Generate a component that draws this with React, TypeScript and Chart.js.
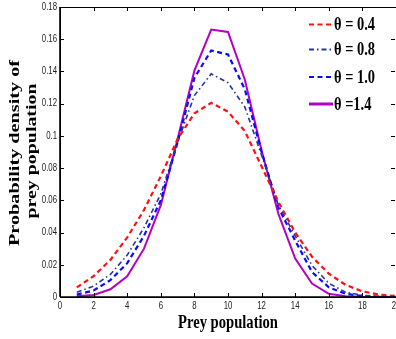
import React, { useEffect, useRef } from "react";
import { Chart, registerables } from "chart.js";

Chart.register(...registerables);

// ---- data ----
const preyPopulation = [1, 2, 3, 4, 5, 6, 7, 8, 9, 10, 11, 12, 13, 14, 15, 16, 17, 18, 19, 20];
const theta04 = [0.006, 0.013, 0.023, 0.037, 0.054, 0.075, 0.098, 0.114, 0.1205, 0.115, 0.103, 0.081, 0.059, 0.040, 0.025, 0.0145, 0.0075, 0.0035, 0.0015, 0.0006];
const theta08 = [0.003, 0.0068, 0.014, 0.026, 0.043, 0.064, 0.096, 0.125, 0.1385, 0.133, 0.118, 0.088, 0.057, 0.038, 0.0196, 0.0085, 0.003, 0.001, 0.0003, 0.0001];
const theta10 = [0.0015, 0.004, 0.0105, 0.021, 0.038, 0.060, 0.096, 0.136, 0.153, 0.1505, 0.129, 0.090, 0.0555, 0.035, 0.0155, 0.006, 0.002, 0.0006, 0.0002, 0.0];
const theta14 = [0.0004, 0.0012, 0.0048, 0.0128, 0.030, 0.057, 0.098, 0.1405, 0.166, 0.1645, 0.135, 0.091, 0.0516, 0.0238, 0.0083, 0.002, 0.0005, 0.0001, 0.0, 0.0];
const seriesLabels = ["θ = 0.4", "θ = 0.8", "θ = 1.0", "θ =1.4"];
const xAxisTitle = "Prey population";
const yAxisTitle = ["Probability density of", "prey population"];
const xMin = 0, xMax = 20, xStep = 2;
const yMin = 0, yMax = 0.18, yStep = 0.02;

const W = 410;
const H = 339;

function drawFitText(
  ctx: CanvasRenderingContext2D,
  text: string,
  x: number,
  y: number,
  font: string,
  sx: number,
  cross: number,
  rotate: boolean,
  align: CanvasTextAlign,
  color = "#000"
) {
  ctx.save();
  ctx.font = font;
  ctx.translate(x, y);
  if (rotate) ctx.rotate(-Math.PI / 2);
  ctx.scale(sx, cross);
  ctx.textAlign = align;
  ctx.textBaseline = "middle";
  ctx.fillStyle = color;
  ctx.fillText(text, 0, 0);
  ctx.restore();
}

const decorPlugin = {
  id: "decor",
  afterDraw(chart: any) {
    const ctx: CanvasRenderingContext2D = chart.ctx;
    const { left, right, top, bottom } = chart.chartArea;
    const xs = chart.scales.x;
    const ys = chart.scales.y;
    ctx.save();
    // frame
    ctx.strokeStyle = "#000";
    ctx.lineWidth = 1;
    ctx.setLineDash([]);
    ctx.strokeRect(left + 0.5, top + 0.5, right - left, bottom - top);
    ctx.lineWidth = 1.6;
    ctx.beginPath();
    ctx.moveTo(left, bottom);
    ctx.lineTo(right, bottom);
    ctx.moveTo(left, top);
    ctx.lineTo(left, bottom);
    ctx.stroke();
    // inward ticks
    ctx.lineWidth = 1;
    const tl = 4;
    ctx.beginPath();
    xs.ticks.forEach((t: any) => {
      const px = Math.round(xs.getPixelForValue(t.value)) + 0.5;
      ctx.moveTo(px, bottom);
      ctx.lineTo(px, bottom - tl);
      ctx.moveTo(px, top);
      ctx.lineTo(px, top + tl);
    });
    ys.ticks.forEach((t: any) => {
      const py = Math.round(ys.getPixelForValue(t.value)) + 0.5;
      ctx.moveTo(left, py);
      ctx.lineTo(left + tl, py);
      ctx.moveTo(right - 1, py);
      ctx.lineTo(right - 1 - tl, py);
    });
    ctx.stroke();

    // tick labels (narrow, like the reference)
    const tickFont = "10px 'Liberation Sans', Arial, sans-serif";
    const tsx = 0.78;
    xs.ticks.forEach((t: any) => {
      const px = xs.getPixelForValue(t.value);
      drawFitText(ctx, String(t.label), px, bottom + 9.5, tickFont, tsx, 1, false, "center", "#222");
    });
    ys.ticks.forEach((t: any) => {
      const py = ys.getPixelForValue(t.value);
      drawFitText(ctx, String(t.label), left - 3, py, tickFont, tsx, 1, false, "right", "#222");
    });

    // axis titles (compressed horizontally like the reference)
    const tFont = "bold 18px 'Liberation Serif', 'Times New Roman', serif";
    ctx.font = tFont;
    const xw = ctx.measureText(xAxisTitle).width;
    drawFitText(ctx, xAxisTitle, (left + right) / 2, bottom + 26, tFont, 100 / xw, 1, false, "center");
    const yTargets = [186, 135];
    const yCenters = [15, 32];
    yAxisTitle.forEach((s, i) => {
      ctx.font = tFont;
      const w = ctx.measureText(s).width;
      drawFitText(ctx, s, yCenters[i], (top + bottom) / 2 + (i === 0 ? 1 : -1), tFont, yTargets[i] / w, 0.8, true, "center");
    });

    // legend
    const lFont = "bold 18px 'Liberation Serif', 'Times New Roman', serif";
    ctx.font = lFont;
    const lsx = 41 / ctx.measureText(seriesLabels[0]).width;
    const rowY = [17.5, 42.5, 70, 97];
    chart.data.datasets.forEach((ds: any, i: number) => {
      const y = top + rowY[i];
      ctx.save();
      ctx.strokeStyle = ds.borderColor;
      ctx.lineWidth = i === 3 ? 3 : 2;
      ctx.setLineDash(ds.borderDash || []);
      ctx.beginPath();
      ctx.moveTo(309, y);
      ctx.lineTo(333, y);
      ctx.stroke();
      ctx.restore();
      drawFitText(ctx, ds.label, 334, y + 1, lFont, lsx, 1, false, "left");
    });
    ctx.restore();
  },
};

export default function App() {
  const ref = useRef<HTMLCanvasElement | null>(null);
  useEffect(() => {
    if (!ref.current) return;
    const mk = (vals: number[]) => preyPopulation.map((x, i) => ({ x, y: vals[i] }));
    const chart = new Chart(ref.current, {
      type: "line",
      data: {
        datasets: [
          { label: seriesLabels[0], data: mk(theta04), borderColor: "#ff1010", borderWidth: 2.2, borderDash: [5, 3.5], pointRadius: 0, tension: 0 },
          { label: seriesLabels[1], data: mk(theta08), borderColor: "#22389a", borderWidth: 1.6, borderDash: [5, 3, 1.5, 3], pointRadius: 0, tension: 0 },
          { label: seriesLabels[2], data: mk(theta10), borderColor: "#0a0aff", borderWidth: 2.2, borderDash: [5, 3.5], pointRadius: 0, tension: 0 },
          { label: seriesLabels[3], data: mk(theta14), borderColor: "#b400c4", borderWidth: 2, pointRadius: 0, tension: 0 },
        ],
      },
      options: {
        animation: false,
        responsive: false,
        devicePixelRatio: 1,
        layout: { padding: { top: 7, right: 14, left: 0, bottom: 0 } },
        plugins: { legend: { display: false }, tooltip: { enabled: false } },
        scales: {
          x: {
            type: "linear",
            min: xMin,
            max: xMax,
            grid: { display: false, drawTicks: false },
            border: { display: false },
            ticks: {
              display: false,
              stepSize: xStep,
              callback: (v: any) => String(v),
            },
            afterFit: (s: any) => { s.height = 42; },
          },
          y: {
            type: "linear",
            min: yMin,
            max: yMax,
            grid: { display: false, drawTicks: false },
            border: { display: false },
            ticks: {
              display: false,
              stepSize: yStep,
              callback: (v: any) => String(+Number(v).toFixed(2)),
            },
            afterFit: (s: any) => { s.width = 60; },
          },
        },
      },
      plugins: [decorPlugin],
    });
    return () => chart.destroy();
  }, []);
  return (
    <div style={{ position: "fixed", left: 0, top: 0, width: 396, height: 339, overflow: "hidden", background: "#fff" }}>
      <canvas ref={ref} width={W} height={H} style={{ display: "block", width: W, height: H }} />
    </div>
  );
}
